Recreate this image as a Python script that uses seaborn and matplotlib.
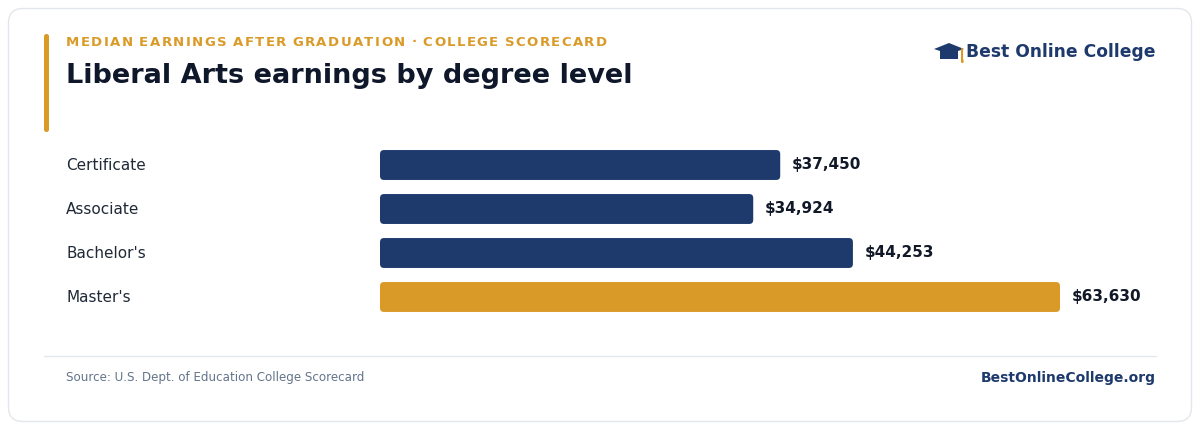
import numpy as np
import pandas as pd
import matplotlib
matplotlib.use("Agg")
import matplotlib.pyplot as plt
import matplotlib.transforms as mtransforms
from matplotlib.patches import FancyBboxPatch
import seaborn as sns

levels = ["Certificate", "Associate", "Bachelor's", "Master's"]
earnings = [37450, 34924, 44253, 63630]
bar_colors = ["#1e3a6c", "#1e3a6c", "#1e3a6c", "#da9a27"]

kicker = "MEDIAN EARNINGS AFTER GRADUATION · COLLEGE SCORECARD"
title = "Liberal Arts earnings by degree level"
source = "Source: U.S. Dept. of Education College Scorecard"
brand = "Best Online College"
site = "BestOnlineCollege.org"

NAVY = "#1e3a6c"
ORANGE = "#da9a27"
INK = "#0f172a"

sns.set_theme(style="white")
plt.rcParams["font.family"] = ["DejaVu Sans"]

W, H = 1200, 430
fig = plt.figure(figsize=(W / 100, H / 100), dpi=100)
fig.patch.set_facecolor("white")

def px(x, y):
    # pixel (from top-left) -> figure fraction
    return x / W, 1 - y / H

# card (behind the axes)
card = FancyBboxPatch(px(8.5, 421.5), 1183 / W, 413 / H,
                      boxstyle="round,pad=0,rounding_size=0.012",
                      transform=fig.transFigure, facecolor="white",
                      edgecolor="#e3e6ec", linewidth=1.0,
                      mutation_aspect=W / H, zorder=-5)
fig.patches.append(card)

# accent bar
accent = FancyBboxPatch(px(44, 132), 5 / W, 98 / H,
                        boxstyle="round,pad=0,rounding_size=0.002",
                        transform=fig.transFigure, facecolor=ORANGE,
                        edgecolor="none", mutation_aspect=W / H)
fig.patches.append(accent)

# kicker with letter spacing
kx, ky = px(66, 42)
renderer = fig.canvas.get_renderer()
x_cur = 66
for ch in kicker:
    t = fig.text(x_cur / W, ky, ch, fontsize=9.5, fontweight="bold",
                 color=ORANGE, va="center", ha="left")
    wpx = t.get_window_extent(renderer).width if ch != " " else 3.6
    x_cur += wpx + 1.4

fig.text(*px(66, 76), title, fontsize=19.5, fontweight="bold", color=INK,
         va="center", ha="left")

# brand logo
bx, by = px(1156, 52)
fig.text(bx, by, brand, fontsize=12.3, fontweight="bold", color=NAVY,
         va="center", ha="right")
cap = plt.Polygon([px(934, 49), px(949, 43), px(964, 49), px(949, 54)],
                  closed=True, transform=fig.transFigure, facecolor=NAVY,
                  edgecolor="none")
fig.patches.append(cap)
base = plt.Rectangle(px(940, 59), 18 / W, 8 / H, transform=fig.transFigure,
                     facecolor=NAVY, edgecolor="none")
fig.patches.append(base)
fig.lines.append(plt.Line2D([962 / W, 962 / W], [1 - 49 / H, 1 - 60 / H],
                            transform=fig.transFigure, color=ORANGE, lw=1.5))
fig.patches.append(FancyBboxPatch(px(961, 63), 2.6 / W, 4 / H,
                                  boxstyle="round,pad=0,rounding_size=0.001",
                                  transform=fig.transFigure, facecolor=ORANGE,
                                  edgecolor="none", mutation_aspect=W / H))

# divider + footer
fig.lines.append(plt.Line2D([44 / W, 1156 / W], [1 - 356 / H, 1 - 356 / H],
                            transform=fig.transFigure, color="#e2e8f0", lw=1))
fig.text(*px(66, 378), source, fontsize=8.6, color="#64748b",
         va="center", ha="left")
fig.text(*px(1156, 378), site, fontsize=10, fontweight="bold", color=NAVY,
         va="center", ha="right")

# bar chart
ax_left, ax_right = 380, 1160
ax_top, ax_bot = 143, 319
ax = fig.add_axes([ax_left / W, 1 - ax_bot / H, (ax_right - ax_left) / W,
                   (ax_bot - ax_top) / H])
ax.set_facecolor("none")

df = pd.DataFrame({"level": levels, "earnings": earnings})
sns.barplot(data=df, x="earnings", y="level", hue="level",
            palette=dict(zip(levels, bar_colors)), legend=False,
            orient="h", width=0.68, ax=ax, saturation=1)

xmax = max(earnings) * (ax_right - ax_left) / 680
ax.set_xlim(0, xmax)
ax.set_ylim(3.5, -0.5)
ax.set_xlabel("")
ax.set_ylabel("")
ax.set_xticks([])
ax.set_yticks([])
sns.despine(ax=ax, left=True, bottom=True)

# replace rectangles with rounded ones
px_per_x = (ax_right - ax_left) / xmax
px_per_y = (ax_bot - ax_top) / 4
r_px = 4
for bar in list(ax.patches):
    x0, y0 = bar.get_x(), bar.get_y()
    w, h = bar.get_width(), bar.get_height()
    fc = bar.get_facecolor()
    bar.remove()
    rb = FancyBboxPatch((x0, y0), w, h,
                        boxstyle=f"round,pad=0,rounding_size={r_px / px_per_x}",
                        mutation_aspect=px_per_x / px_per_y,
                        facecolor=fc, edgecolor="none")
    ax.add_patch(rb)

lab_tr = mtransforms.blended_transform_factory(fig.transFigure, ax.transData)
for i, (lvl, val) in enumerate(zip(levels, earnings)):
    ax.text(66 / W, i, lvl, transform=lab_tr, fontsize=11, color="#1f2937",
            va="center", ha="left")
    ax.annotate(f"${val:,}", (val, i), xytext=(12 * 0.72, 0),
                textcoords="offset points", fontsize=11, fontweight="bold",
                color="#111827", va="center", ha="left")

fig.savefig("out.png", dpi=100, facecolor="white")
